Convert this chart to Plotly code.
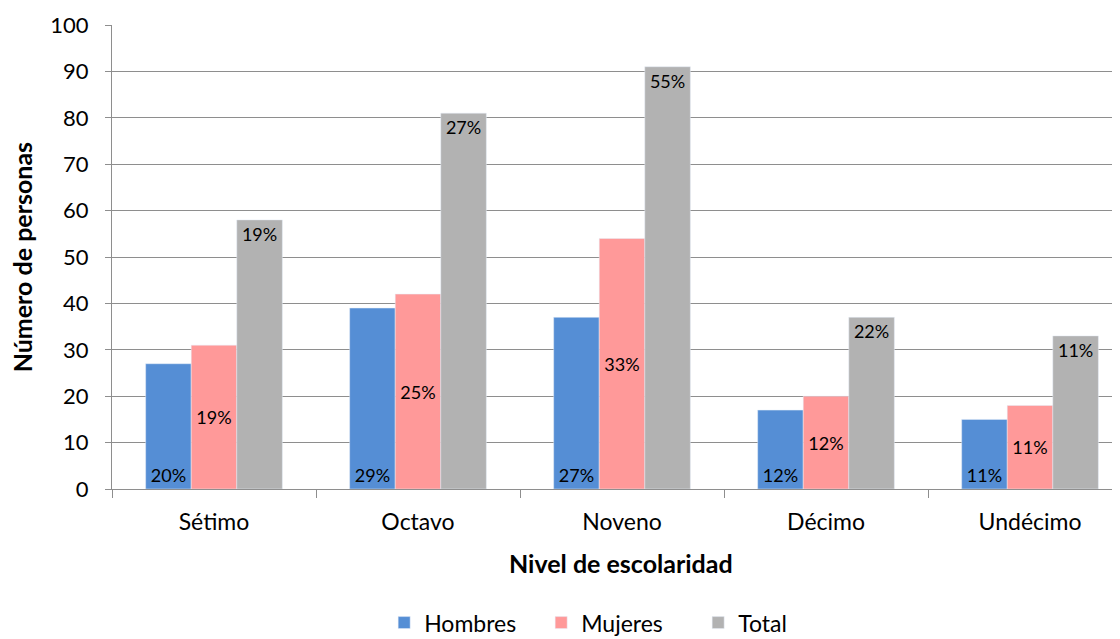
import plotly.graph_objects as go

categories = ["Sétimo", "Octavo", "Noveno", "Décimo", "Undécimo"]
hombres = [27, 39, 37, 17, 15]
mujeres = [31, 42, 54, 20, 18]
total = [58, 81, 91, 37, 33]
hombres_pct = ["20%", "29%", "27%", "12%", "11%"]
mujeres_pct = ["19%", "25%", "33%", "12%", "11%"]
total_pct = ["19%", "27%", "55%", "22%", "11%"]
y_ticks = list(range(0, 101, 10))

FONT = "Lato, 'Open Sans', sans-serif"
label_font = dict(family=FONT, size=18, color="black")

fig = go.Figure()
fig.add_trace(go.Bar(x=categories, y=hombres, name="Hombres", marker_color="#558ED5",
                     text=hombres_pct, textposition="inside", insidetextanchor="start",
                     textfont=label_font, textangle=0))
fig.add_trace(go.Bar(x=categories, y=mujeres, name="Mujeres", marker_color="#FF9999",
                     text=mujeres_pct, textposition="inside", insidetextanchor="middle",
                     textfont=label_font, textangle=0))
fig.add_trace(go.Bar(x=categories, y=total, name="Total", marker_color="#B2B2B2",
                     text=total_pct, textposition="inside", insidetextanchor="end",
                     textfont=label_font, textangle=0))

# page body has an 8px margin, so the figure is sized/offset to compensate
fig.update_layout(
    width=1112, height=631,
    margin=dict(l=104, r=0, t=17, b=150, autoexpand=False),
    paper_bgcolor="white", plot_bgcolor="white",
    barmode="group", bargap=0.33, bargroupgap=0,
    font=dict(family=FONT, color="black"),
    legend=dict(orientation="h", x=0.270, xanchor="left", y=-0.288, yanchor="middle",
                font=dict(family=FONT, size=23, color="black"),
                entrywidth=112, entrywidthmode="pixels",
                traceorder="normal"),
    showlegend=True,
)
fig.update_xaxes(
    range=[-0.5, 4.441], showgrid=False, automargin=False,
    showline=True, linecolor="#8e8e8e", linewidth=1,
    ticks="outside", tickson="boundaries", ticklen=8, tickcolor="#8e8e8e",
    ticklabelstandoff=12,
    tickfont=dict(family=FONT, size=23, color="black"),
)
fig.update_yaxes(
    range=[0, 100], tickvals=y_ticks, showgrid=True, gridcolor="#8e8e8e", gridwidth=1,
    automargin=False,
    showline=True, linecolor="#8e8e8e", linewidth=1,
    ticks="outside", ticklen=6, tickcolor="#8e8e8e",
    ticklabelstandoff=12,
    tickfont=dict(family=FONT, size=22, color="black"),
    zeroline=False,
)
fig.add_annotation(text="<b>Nivel de escolaridad</b>", xref="paper", yref="paper",
                   x=0.505, y=-0.159, xanchor="center", yanchor="middle", showarrow=False,
                   font=dict(family=FONT, size=25, color="black"))
fig.add_annotation(text="<b>Número de personas</b>", xref="paper", yref="paper",
                   x=-0.089, y=0.5, xanchor="center", yanchor="middle", showarrow=False,
                   textangle=-90, font=dict(family=FONT, size=25, color="black"))

fig.write_html("out.html")
